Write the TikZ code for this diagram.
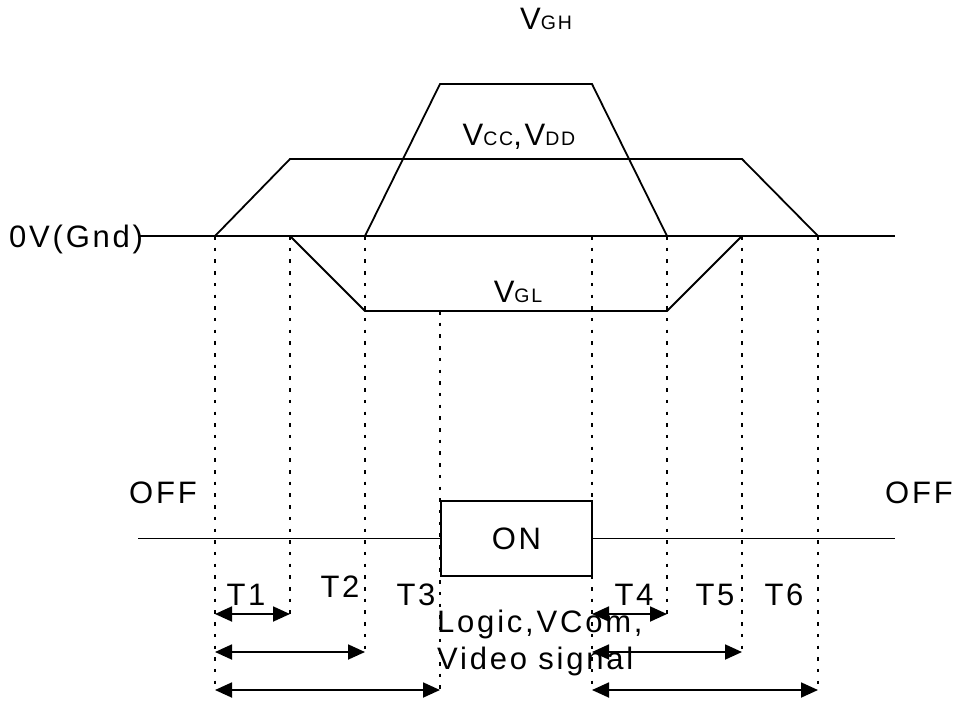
\documentclass[tikz,border=0pt]{standalone}
\usepackage{fontspec}
\setmainfont{Liberation Sans}[LetterSpace=9]
\usetikzlibrary{arrows.meta}
\newcommand{\vsub}[1]{{\fontsize{19.5}{19.5}\selectfont #1}}

\begin{document}
\begin{tikzpicture}[x=1pt, y=-1pt, font=\fontsize{31}{37}\selectfont,
  wave/.style={line width=1.8pt},
  guide/.style={line width=1.6pt, dash pattern=on 3.5pt off 8.2pt},
  span/.style={line width=1.8pt, {Triangle[length=17pt,width=15pt]}-{Triangle[length=17pt,width=15pt]}},
  lbl/.style={inner sep=0pt, anchor=base}]
  \useasboundingbox (0,0) rectangle (955,704);

  % rail crossings and guide ends
  \coordinate (gL) at (138,236);
  \coordinate (gR) at (895,236);
  \foreach \n/\x in {1/215,2/290,3/365,5/592,6/667,7/742,8/818}
    \coordinate (t\n) at (\x,236);
  \coordinate (t4) at (440,311);
  \foreach \n/\x/\y in {1/215/690,2/290/614,3/365/652,4/440/690,5/592/690,6/667/614,7/742/652,8/818/690}
    \coordinate (b\n) at (\x,\y);

  % supply waveforms
  \draw[wave] (gL) -- (gR);
  \draw[wave] (t1) -- (290,159) -- (742,159) -- (t8);
  \draw[wave] (t3) -- (440,84) -- (592,84) -- (t6);
  \draw[wave] (t2) -- (365,311) -- (667,311) -- (t7);

  % timing guides
  \foreach \n in {1,...,8}
    \draw[guide] (t\n) -- (b\n);

  % logic state
  \node[draw, line width=1.8pt, minimum width=151pt, minimum height=75pt, inner sep=0pt] (on) at (516.5,538.5) {ON};
  \coordinate (sL) at (138,538.5);
  \coordinate (sR) at (895,538.5);
  \draw[wave] (sL) -- (on.west);
  \draw[wave] (on.east) -- (sR);

  % spans
  \draw[span] (b2 -| t1) -- (b2);
  \draw[span] (b3 -| t1) -- (b3);
  \draw[span] (b4 -| t1) -- (b4);
  \draw[span] (b6 -| t5) -- (b6);
  \draw[span] (b7 -| t5) -- (b7);
  \draw[span] (b8 -| t5) -- (b8);

  % labels
  \node[lbl] (vgh) at (546,29) {V\vsub{GH}};
  \node[lbl] (vcc) at (519,145) {V\vsub{CC},V\vsub{DD}};
  \node[lbl] (vgl) at (518,302) {V\vsub{GL}};
  \node[lbl, anchor=base west] (gnd) at (9,247) {0V(Gnd)};
  \node[lbl] (offL) at (163,503) {OFF};
  \node[lbl] (offR) at (919,503) {OFF};
  \node[lbl] (T1) at (246,605) {T1};
  \node[lbl] (T2) at (340,597) {T2};
  \node[lbl] (T3) at (416,605) {T3};
  \node[lbl] (T4) at (634,605) {T4};
  \node[lbl] (T5) at (715,605) {T5};
  \node[lbl] (T6) at (784,605) {T6};
  \node[inner sep=0pt, anchor=north west, align=left] (sig) at (437,610) {Logic,VCom,\\Video signal};
\end{tikzpicture}
\end{document}
